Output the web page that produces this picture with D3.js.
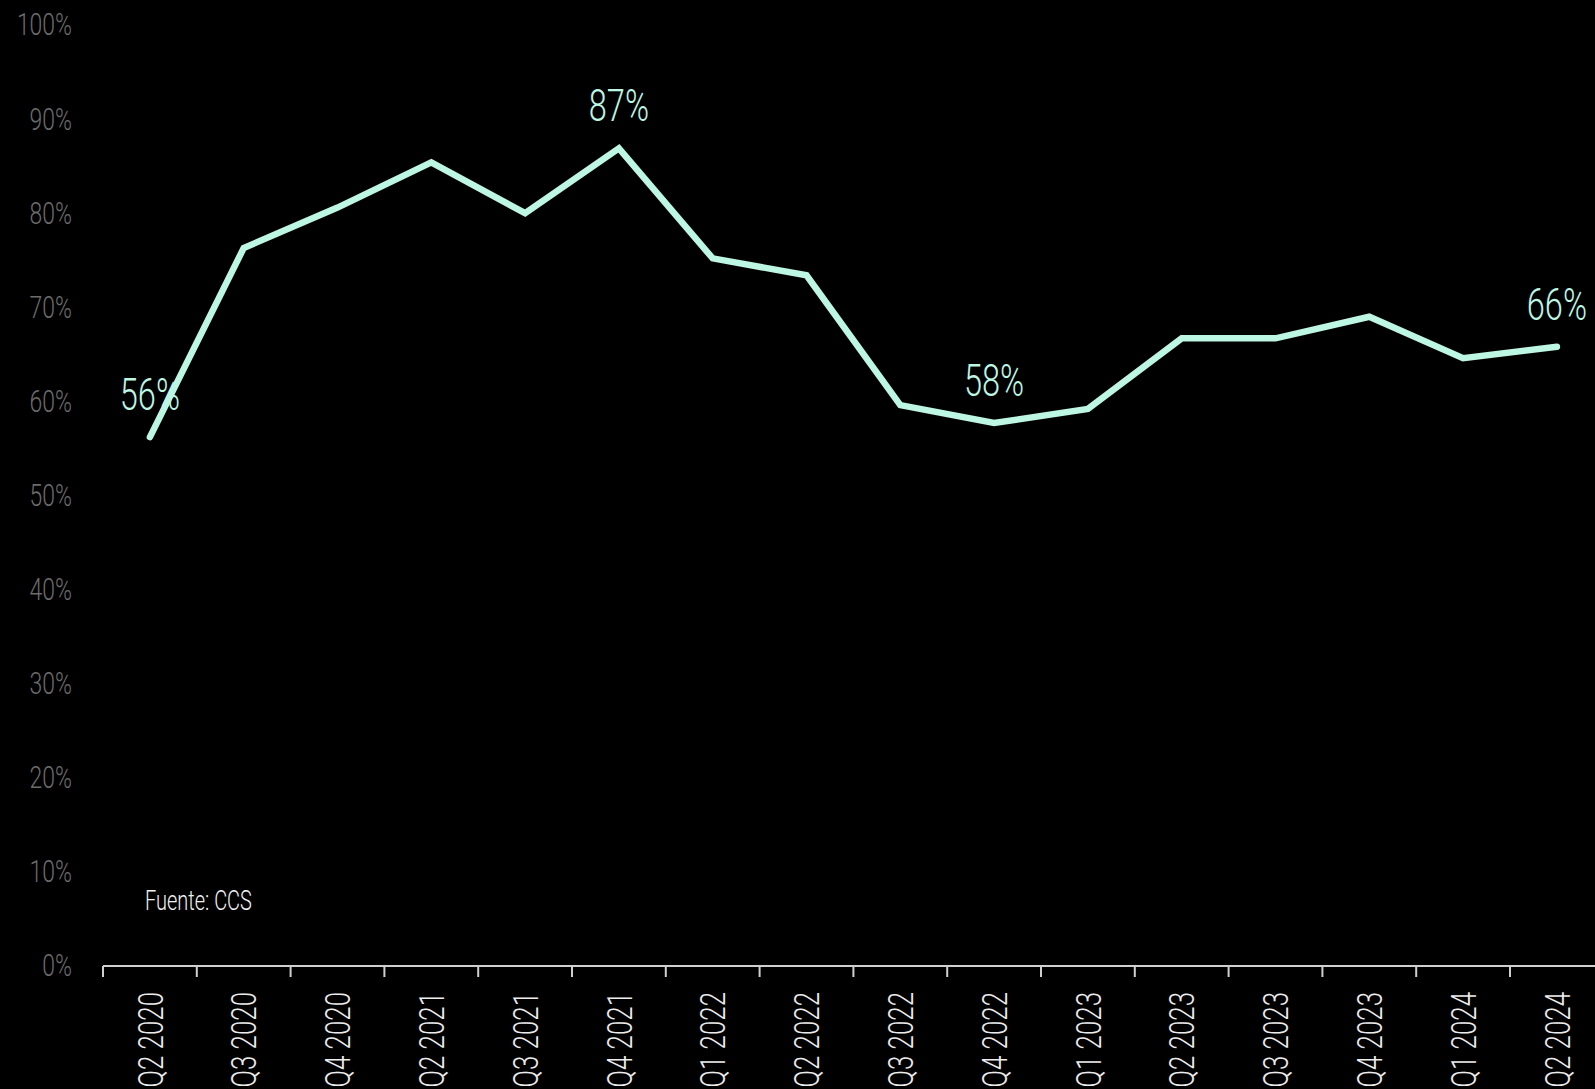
<!DOCTYPE html>
<html>
<head>
<meta charset="utf-8">
<script src="https://cdn.jsdelivr.net/npm/d3@7"></script>
<style>
  html, body { margin: 0; padding: 0; background: #000; overflow: hidden; }
  svg { display: block; }
  text { font-family: Roboto, "Noto Sans", sans-serif; font-weight: 300; }
</style>
</head>
<body>
<div id="outlet"></div>
<script>
// quarters (Q1 2021 is not in the source series)
const quarters = ["Q2 2020", "Q3 2020", "Q4 2020", "Q2 2021", "Q3 2021", "Q4 2021",
  "Q1 2022", "Q2 2022", "Q3 2022", "Q4 2022", "Q1 2023", "Q2 2023", "Q3 2023",
  "Q4 2023", "Q1 2024", "Q2 2024"];
const values = [56.2, 76.3, 80.6, 85.4, 80.0, 86.9, 75.2, 73.4, 59.6, 57.7, 59.2,
  66.7, 66.7, 69.0, 64.6, 65.8];
const labelled = ["Q2 2020", "Q4 2021", "Q4 2022", "Q2 2024"];
const yTicks = [0, 10, 20, 30, 40, 50, 60, 70, 80, 90, 100];
const source = "Fuente: CCS";

const width = 1595, height = 1089;
const marginLeft = 103, marginTop = 25, marginBottom = 123;
const lineColor = "#bdf6e2";
const squeeze = 0.74; // the source uses a condensed face, fake it

const data = quarters.map((q, i) => ({ q, v: values[i] }));

const x = d3.scaleBand()
  .domain(quarters)
  .range([marginLeft, marginLeft + 93.8 * quarters.length]);

const y = d3.scaleLinear()
  .domain([0, 100])
  .range([height - marginBottom, marginTop]);

const svg = d3.select("#outlet")
  .append("svg")
  .attr("width", width)
  .attr("height", height)
  .attr("viewBox", [0, 0, width, height]);

svg.append("rect").attr("width", width).attr("height", height).attr("fill", "#000");

// y axis: labels only
svg.append("g")
  .attr("transform", `translate(${marginLeft - 31},0)`)
  .call(d3.axisLeft(y).tickValues(yTicks).tickSize(0).tickPadding(0).tickFormat(d => d + "%"))
  .call(g => g.select(".domain").remove())
  .call(g => g.selectAll("text")
    .attr("x", 0)
    .attr("transform", `scale(${squeeze},1)`)
    .attr("fill", "#6c6c6c")
    .attr("font-size", 31)
    .attr("font-family", null));

// x axis with ticks at band edges
const xAxis = svg.append("g")
  .attr("transform", `translate(0,${y(0)})`);
xAxis.append("line")
  .attr("x1", x.range()[0]).attr("x2", width)
  .attr("stroke", "#cfcfcf").attr("stroke-width", 2);
xAxis.selectAll(".tick")
  .data(quarters)
  .join("line")
  .attr("class", "tick")
  .attr("x1", d => x(d)).attr("x2", d => x(d))
  .attr("y1", 0).attr("y2", 11)
  .attr("stroke", "#cfcfcf").attr("stroke-width", 2);
xAxis.selectAll(".lbl")
  .data(quarters)
  .join("text")
  .attr("class", "lbl")
  .attr("transform", d => `translate(${x(d) + x.bandwidth() / 2},26) rotate(-90) scale(${squeeze},1)`)
  .attr("text-anchor", "end")
  .attr("dy", "0.36em")
  .attr("fill", "#ececec")
  .attr("font-size", 35)
  .text(d => d);

// line
const line = d3.line()
  .x(d => x(d.q) + x.bandwidth() / 2)
  .y(d => y(d.v));

svg.append("path")
  .datum(data)
  .attr("fill", "none")
  .attr("stroke", lineColor)
  .attr("stroke-width", 6.5)
  .attr("stroke-linejoin", "miter")
  .attr("stroke-linecap", "round")
  .attr("d", line);

// value labels
svg.append("g")
  .selectAll("text")
  .data(data.filter(d => labelled.includes(d.q)))
  .join("text")
  .attr("transform", d => `translate(${x(d.q) + x.bandwidth() / 2},${y(d.v) - 27}) scale(${squeeze},1)`)
  .attr("text-anchor", "middle")
  .attr("fill", lineColor)
  .attr("font-size", 44)
  .text(d => Math.round(d.v) + "%");

// source note
svg.append("text")
  .attr("transform", `translate(145,910) scale(${squeeze},1)`)
  .attr("fill", "#f2f2f2")
  .attr("font-size", 27)
  .text(source);
</script>
</body>
</html>
